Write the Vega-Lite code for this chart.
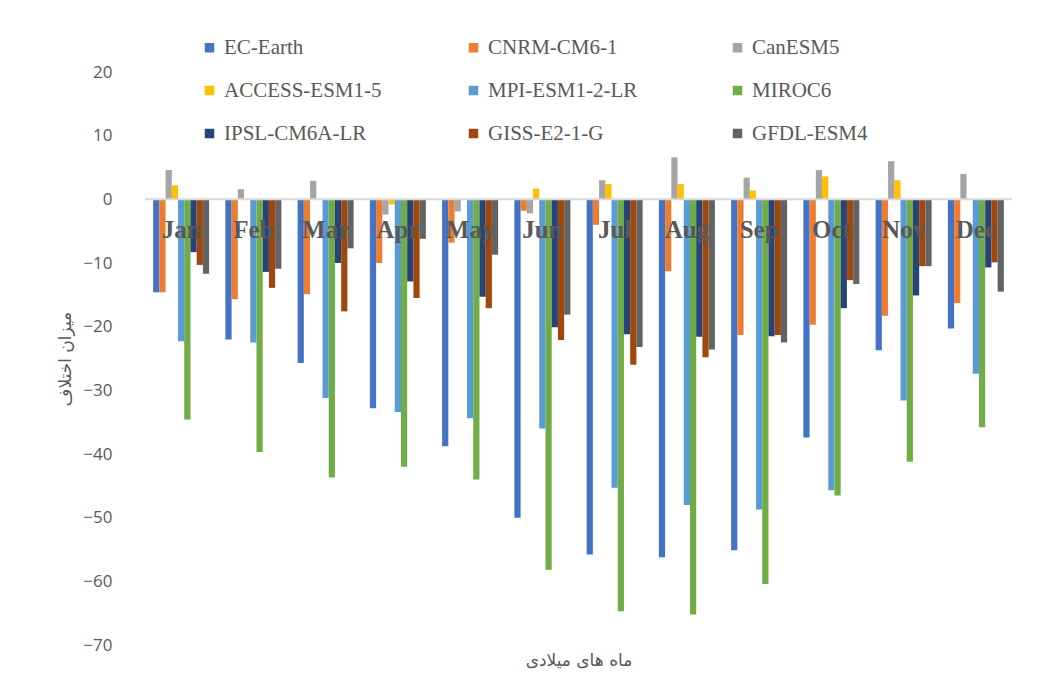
{
  "$schema": "https://vega.github.io/schema/vega-lite/v6.json",
  "width": 867,
  "height": 573,
  "autosize": "none",
  "padding": {"left": 145, "top": 72, "right": 30, "bottom": 51},
  "background": "white",
  "config": {"view": {"stroke": null}},
  "data": {"values": [
    {"month":"Jan","model":"EC-Earth","value":-14.6},{"month":"Jan","model":"CNRM-CM6-1","value":-14.6},{"month":"Jan","model":"CanESM5","value":4.6},{"month":"Jan","model":"ACCESS-ESM1-5","value":2.2},{"month":"Jan","model":"MPI-ESM1-2-LR","value":-22.3},{"month":"Jan","model":"MIROC6","value":-34.6},{"month":"Jan","model":"IPSL-CM6A-LR","value":-8.3},{"month":"Jan","model":"GISS-E2-1-G","value":-10.3},{"month":"Jan","model":"GFDL-ESM4","value":-11.7},
    {"month":"Feb","model":"EC-Earth","value":-22.0},{"month":"Feb","model":"CNRM-CM6-1","value":-15.7},{"month":"Feb","model":"CanESM5","value":1.6},{"month":"Feb","model":"ACCESS-ESM1-5","value":0},{"month":"Feb","model":"MPI-ESM1-2-LR","value":-22.5},{"month":"Feb","model":"MIROC6","value":-39.7},{"month":"Feb","model":"IPSL-CM6A-LR","value":-11.4},{"month":"Feb","model":"GISS-E2-1-G","value":-13.9},{"month":"Feb","model":"GFDL-ESM4","value":-10.9},
    {"month":"Mar","model":"EC-Earth","value":-25.7},{"month":"Mar","model":"CNRM-CM6-1","value":-14.9},{"month":"Mar","model":"CanESM5","value":2.9},{"month":"Mar","model":"ACCESS-ESM1-5","value":0},{"month":"Mar","model":"MPI-ESM1-2-LR","value":-31.2},{"month":"Mar","model":"MIROC6","value":-43.7},{"month":"Mar","model":"IPSL-CM6A-LR","value":-10.0},{"month":"Mar","model":"GISS-E2-1-G","value":-17.6},{"month":"Mar","model":"GFDL-ESM4","value":-7.7},
    {"month":"Apr","model":"EC-Earth","value":-32.8},{"month":"Apr","model":"CNRM-CM6-1","value":-10.0},{"month":"Apr","model":"CanESM5","value":-2.4},{"month":"Apr","model":"ACCESS-ESM1-5","value":-0.8},{"month":"Apr","model":"MPI-ESM1-2-LR","value":-33.4},{"month":"Apr","model":"MIROC6","value":-42.0},{"month":"Apr","model":"IPSL-CM6A-LR","value":-12.9},{"month":"Apr","model":"GISS-E2-1-G","value":-15.5},{"month":"Apr","model":"GFDL-ESM4","value":-6.2},
    {"month":"May","model":"EC-Earth","value":-38.8},{"month":"May","model":"CNRM-CM6-1","value":-6.8},{"month":"May","model":"CanESM5","value":-1.9},{"month":"May","model":"ACCESS-ESM1-5","value":0},{"month":"May","model":"MPI-ESM1-2-LR","value":-34.4},{"month":"May","model":"MIROC6","value":-44.0},{"month":"May","model":"IPSL-CM6A-LR","value":-15.3},{"month":"May","model":"GISS-E2-1-G","value":-17.1},{"month":"May","model":"GFDL-ESM4","value":-8.7},
    {"month":"Jun","model":"EC-Earth","value":-50.0},{"month":"Jun","model":"CNRM-CM6-1","value":-1.8},{"month":"Jun","model":"CanESM5","value":-2.2},{"month":"Jun","model":"ACCESS-ESM1-5","value":1.7},{"month":"Jun","model":"MPI-ESM1-2-LR","value":-36.0},{"month":"Jun","model":"MIROC6","value":-58.2},{"month":"Jun","model":"IPSL-CM6A-LR","value":-20.1},{"month":"Jun","model":"GISS-E2-1-G","value":-22.1},{"month":"Jun","model":"GFDL-ESM4","value":-18.1},
    {"month":"Jul","model":"EC-Earth","value":-55.8},{"month":"Jul","model":"CNRM-CM6-1","value":-4.0},{"month":"Jul","model":"CanESM5","value":3.0},{"month":"Jul","model":"ACCESS-ESM1-5","value":2.4},{"month":"Jul","model":"MPI-ESM1-2-LR","value":-45.3},{"month":"Jul","model":"MIROC6","value":-64.7},{"month":"Jul","model":"IPSL-CM6A-LR","value":-21.2},{"month":"Jul","model":"GISS-E2-1-G","value":-26.0},{"month":"Jul","model":"GFDL-ESM4","value":-23.2},
    {"month":"Aug","model":"EC-Earth","value":-56.2},{"month":"Aug","model":"CNRM-CM6-1","value":-11.3},{"month":"Aug","model":"CanESM5","value":6.6},{"month":"Aug","model":"ACCESS-ESM1-5","value":2.4},{"month":"Aug","model":"MPI-ESM1-2-LR","value":-48.0},{"month":"Aug","model":"MIROC6","value":-65.2},{"month":"Aug","model":"IPSL-CM6A-LR","value":-21.6},{"month":"Aug","model":"GISS-E2-1-G","value":-24.8},{"month":"Aug","model":"GFDL-ESM4","value":-23.6},
    {"month":"Sep","model":"EC-Earth","value":-55.1},{"month":"Sep","model":"CNRM-CM6-1","value":-21.3},{"month":"Sep","model":"CanESM5","value":3.4},{"month":"Sep","model":"ACCESS-ESM1-5","value":1.4},{"month":"Sep","model":"MPI-ESM1-2-LR","value":-48.7},{"month":"Sep","model":"MIROC6","value":-60.4},{"month":"Sep","model":"IPSL-CM6A-LR","value":-21.5},{"month":"Sep","model":"GISS-E2-1-G","value":-21.3},{"month":"Sep","model":"GFDL-ESM4","value":-22.5},
    {"month":"Oct","model":"EC-Earth","value":-37.4},{"month":"Oct","model":"CNRM-CM6-1","value":-19.7},{"month":"Oct","model":"CanESM5","value":4.6},{"month":"Oct","model":"ACCESS-ESM1-5","value":3.6},{"month":"Oct","model":"MPI-ESM1-2-LR","value":-45.7},{"month":"Oct","model":"MIROC6","value":-46.5},{"month":"Oct","model":"IPSL-CM6A-LR","value":-17.1},{"month":"Oct","model":"GISS-E2-1-G","value":-12.7},{"month":"Oct","model":"GFDL-ESM4","value":-13.3},
    {"month":"Nov","model":"EC-Earth","value":-23.7},{"month":"Nov","model":"CNRM-CM6-1","value":-18.3},{"month":"Nov","model":"CanESM5","value":6.0},{"month":"Nov","model":"ACCESS-ESM1-5","value":3.0},{"month":"Nov","model":"MPI-ESM1-2-LR","value":-31.6},{"month":"Nov","model":"MIROC6","value":-41.2},{"month":"Nov","model":"IPSL-CM6A-LR","value":-15.1},{"month":"Nov","model":"GISS-E2-1-G","value":-10.5},{"month":"Nov","model":"GFDL-ESM4","value":-10.5},
    {"month":"Dec","model":"EC-Earth","value":-20.3},{"month":"Dec","model":"CNRM-CM6-1","value":-16.3},{"month":"Dec","model":"CanESM5","value":4.0},{"month":"Dec","model":"ACCESS-ESM1-5","value":0},{"month":"Dec","model":"MPI-ESM1-2-LR","value":-27.4},{"month":"Dec","model":"MIROC6","value":-35.8},{"month":"Dec","model":"IPSL-CM6A-LR","value":-10.7},{"month":"Dec","model":"GISS-E2-1-G","value":-9.9},{"month":"Dec","model":"GFDL-ESM4","value":-14.5}
  ]},
  "layer": [
    {
      "mark": {"type": "bar"},
      "encoding": {
        "x": {
          "field": "month", "type": "nominal",
          "sort": ["Jan","Feb","Mar","Apr","May","Jun","Jul","Aug","Sep","Oct","Nov","Dec"],
          "scale": {"paddingInner": 0.225, "paddingOuter": 0.1125},
          "axis": {"labels": false, "ticks": false, "domain": false, "title": "ماه های میلادی", "titleFont": "DejaVu Sans", "titleFontSize": 17, "titleFontWeight": "normal", "titleColor": "#595959", "titlePadding": 7}
        },
        "xOffset": {
          "field": "model", "type": "nominal",
          "sort": ["EC-Earth","CNRM-CM6-1","CanESM5","ACCESS-ESM1-5","MPI-ESM1-2-LR","MIROC6","IPSL-CM6A-LR","GISS-E2-1-G","GFDL-ESM4"],
          "scale": {"paddingInner": 0, "paddingOuter": 0}
        },
        "y": {
          "field": "value", "type": "quantitative",
          "scale": {"domain": [-70, 20], "nice": false},
          "axis": {"values": [20,10,0,-10,-20,-30,-40,-50,-60,-70], "grid": false, "domain": false, "ticks": false, "labelPadding": 33, "labelFont": "Open Sans", "labelFontSize": 17, "labelColor": "#595959", "title": "میزان اختلاف", "titleFont": "DejaVu Sans", "titleFontSize": 17, "titleFontWeight": "normal", "titleColor": "#595959", "titlePadding": 8}
        },
        "color": {
          "field": "model", "type": "nominal",
          "scale": {
            "domain": ["EC-Earth","ACCESS-ESM1-5","IPSL-CM6A-LR","CNRM-CM6-1","MPI-ESM1-2-LR","GISS-E2-1-G","CanESM5","MIROC6","GFDL-ESM4"],
            "range": ["#4472C4","#FFC000","#264478","#ED7D31","#5B9BD5","#9E480E","#A5A5A5","#70AD47","#636363"]
          },
          "legend": {"title": null, "orient": "none", "legendX": 54, "legendY": -35, "columns": 3, "symbolType": "square", "symbolSize": 90, "symbolStrokeWidth": 0, "labelFont": "Liberation Serif", "labelFontSize": 21, "labelColor": "#595959", "labelOffset": 4, "labelLimit": 300, "columnPadding": 81, "rowPadding": 21, "gridAlign": "all", "padding": 0}
        }
      }
    },
    {
      "data": {"values": [{}]},
      "mark": {"type": "rule", "color": "#d9d9d9", "strokeWidth": 2},
      "encoding": {"y": {"datum": 0}}
    },
    {
      "transform": [{"filter": "datum.model === 'EC-Earth'"}],
      "mark": {"type": "text", "font": "Liberation Serif", "fontSize": 25, "fontWeight": "bold", "color": "#595959", "baseline": "middle", "align": "center", "dy": 31},
      "encoding": {
        "x": {"field": "month", "type": "nominal", "sort": ["Jan","Feb","Mar","Apr","May","Jun","Jul","Aug","Sep","Oct","Nov","Dec"]},
        "y": {"datum": 0},
        "text": {"field": "month"}
      }
    }
  ]
}
